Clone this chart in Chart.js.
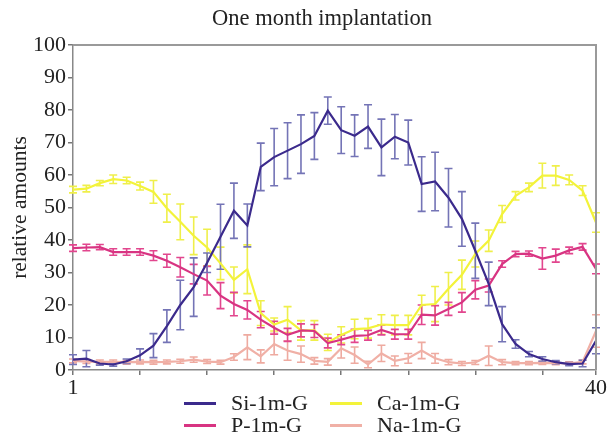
<!DOCTYPE html>
<html>
<head>
<meta charset="utf-8">
<script src="https://cdn.jsdelivr.net/npm/chart.js@4"></script>
<style>
  html, body { margin: 0; padding: 0; background: #fff; }
  #wrap { position: relative; width: 612px; height: 437px; }
  #legend { position: absolute; left: 0; top: 0; width: 612px; height: 437px; pointer-events: none;
            font-family: "Liberation Serif", "DejaVu Serif", serif; font-size: 22px; color: #222; }
  #title { position: absolute; left: 122px; width: 400px; top: 4px; text-align: center;
           font-size: 22.5px; line-height: 28px; white-space: nowrap; }
  .item { position: absolute; height: 24px; line-height: 24px; }
  .item span.swatch { position: absolute; top: 11px; height: 3px; width: 32px; }
  .item span.label { position: absolute; white-space: nowrap; }
</style>
</head>
<body>
<div id="wrap">
  <canvas id="chartProfile" width="612" height="437"></canvas>
  <div id="legend"><div id="title">One month implantation</div></div>
</div>
<script>
// measurement position along the line scan
const positions = [1, 2, 3, 4, 5, 6, 7, 8, 9, 10, 11, 12, 13, 14, 15, 16, 17, 18, 19, 20,
                   21, 22, 23, 24, 25, 26, 27, 28, 29, 30, 31, 32, 33, 34, 35, 36, 37, 38, 39, 40]
const xTicks = [1, 6, 11, 16, 21, 26, 31, 36, 40]
const xLabels = [1, 40]

const siValues = [3.2, 3.5, 2.0, 1.7, 2.7, 4.5, 7.5, 13.5, 20, 25.5, 33, 41, 49, 44.5, 62.5, 65.5, 67.5, 69.5, 72, 79.8,
                  73.8, 72.1, 74.9, 68.5, 71.8, 70, 57.2, 58, 53, 46.5, 36.7, 26.5, 14.1, 8, 4.9, 3.4, 2.4, 1.8, 2.0, 9.0]
const siErrors = [1.5, 2.5, 0.5, 0.5, 0.7, 2, 3.7, 5, 7.6, 9, 3, 10, 8.5, 6.6, 7.3, 8.8, 8.6, 9, 7.2, 4.2,
                  7.2, 6.4, 6.7, 8.7, 6.8, 6.9, 8.4, 9, 9, 8.4, 8.5, 6.7, 5.4, 1.3, 0.8, 0.7, 0.5, 0.5, 1, 4]

const caValues = [55.5, 55.8, 57.5, 58.7, 58.3, 56.6, 54.8, 49.8, 45.6, 41.3, 37.7, 32.8, 27.7, 31, 17.5, 14, 15.5, 12.2, 12.2, 8.5,
                  10.8, 12.6, 12.8, 14, 13.8, 13.8, 20, 20.3, 25, 29.3, 35.7, 39.8, 48, 53.6, 56.2, 59.8, 59.8, 58.5, 55.2, 45.4]
const caErrors = [1, 1, 0.8, 1.3, 1, 1.2, 3.5, 4.3, 5.5, 5.8, 5.6, 5, 4, 7.5, 3.8, 2, 4, 3, 3, 2.5,
                  2.5, 3, 3, 3, 3, 3, 3, 5.4, 5, 4.5, 4, 3.3, 2.6, 1.3, 1.3, 3.8, 3, 1.5, 1.5, 3]

const pValues = [37.5, 37.7, 37.8, 36.3, 36.3, 36.3, 35.2, 33.6, 31.6, 29.5, 27.5, 22.9, 20.3, 18.5, 15.5, 13, 10.8, 12.2, 12, 8.3,
                 9.3, 10.5, 10.7, 12.3, 11, 11, 17, 16.8, 18.8, 20.8, 24.7, 26, 32.6, 35.7, 35.8, 34.3, 35.2, 36.8, 37.9, 31.1]
const pErrors = [1, 1, 0.8, 1, 1, 1, 1.5, 2, 3, 3, 4.4, 4, 3.6, 2.8, 2.5, 2, 2, 2, 2, 1.5,
                 1.5, 2, 1.5, 1.5, 1.5, 1.5, 3, 3, 2, 3, 2.8, 2, 1, 0.8, 0.8, 3.3, 2, 1, 1, 1.5]

const naValues = [2.8, 2.6, 2.5, 2.5, 2.4, 2.5, 2.4, 2.5, 2.7, 3.2, 2.6, 2.4, 4, 7, 4.2, 8, 6, 4.9, 2.8, 2.5,
                  6.7, 4.6, 1.7, 5.1, 2.8, 3.6, 6, 3.6, 2.4, 2.0, 2.3, 4.4, 2.4, 2.1, 2.1, 2.2, 2.1, 2.0, 2.5, 12]
const naErrors = [0.6, 0.6, 0.6, 0.6, 0.6, 0.6, 0.6, 0.6, 0.6, 0.8, 0.6, 0.6, 1, 3.8, 2, 3.3, 3, 2.5, 1, 1,
                  3, 2.5, 1, 2.5, 1.5, 1.5, 2.5, 1.5, 0.8, 0.6, 0.6, 3, 0.8, 0.5, 0.5, 0.5, 0.5, 0.5, 0.6, 5]

const serif = '"Liberation Serif", "DejaVu Serif", serif'

function series(label, values, errors, color, errorColor) {
    return {
        label: label,
        data: positions.map((p, i) => ({ x: p, y: values[i] })),
        errors: errors,
        errorColor: errorColor,
        borderColor: color,
        borderWidth: 2.2,
        pointRadius: 0,
        tension: 0,
        fill: false
    }
}

const datasets = [
    series('Si-1m-G', siValues, siErrors, '#3b2a8c', '#7474b6'),
    series('P-1m-G', pValues, pErrors, '#d83482', '#e2468e'),
    series('Ca-1m-G', caValues, caErrors, '#f3f33a', '#efef4a'),
    series('Na-1m-G', naValues, naErrors, '#f0b0a6', '#eeaaa0')
]

// vertical error bars with caps, drawn below the lines
const errorBars = {
    id: 'errorBars',
    beforeDatasetsDraw(chart) {
        const ctx = chart.ctx
        const yScale = chart.scales.y
        for (let di = chart.data.datasets.length - 1; di >= 0; di--) {
            const ds = chart.data.datasets[di]
            const meta = chart.getDatasetMeta(di)
            ctx.save()
            ctx.strokeStyle = ds.errorColor
            ctx.lineWidth = 1.6
            meta.data.forEach((pt, i) => {
                const v = ds.data[i].y
                const e = ds.errors[i]
                const top = yScale.getPixelForValue(v + e)
                const bot = yScale.getPixelForValue(Math.max(0, v - e))
                ctx.beginPath()
                ctx.moveTo(pt.x, top)
                ctx.lineTo(pt.x, bot)
                ctx.moveTo(pt.x - 4, top)
                ctx.lineTo(pt.x + 4, top)
                ctx.moveTo(pt.x - 4, bot)
                ctx.lineTo(pt.x + 4, bot)
                ctx.stroke()
            })
            ctx.restore()
        }
    }
}

// grey frame on top and right of the plot
const frame = {
    id: 'frame',
    afterDraw(chart) {
        const a = chart.chartArea
        const ctx = chart.ctx
        ctx.save()
        ctx.strokeStyle = '#9a9a9a'
        ctx.lineWidth = 2
        ctx.beginPath()
        ctx.moveTo(a.left, a.top)
        ctx.lineTo(a.right, a.top)
        ctx.lineTo(a.right, a.bottom)
        ctx.stroke()
        ctx.restore()
    }
}

const ctx = document.getElementById('chartProfile').getContext('2d')
new Chart(ctx, {
    type: 'line',
    data: { datasets: datasets },
    plugins: [errorBars, frame],
    options: {
        responsive: false,
        animation: false,
        layout: { padding: { top: 45, right: 16, left: 0, bottom: 0 } },
        plugins: {
            legend: { display: false },
            tooltip: { enabled: false },
            title: { display: false }
        },
        scales: {
            x: {
                type: 'linear',
                min: 1,
                max: 40,
                afterBuildTicks: function(scale) {
                    scale.ticks = xTicks.map(v => ({ value: v }))
                },
                afterFit: function(scale) { scale.height = 67 },
                ticks: {
                    color: '#222',
                    font: { family: serif, size: 22 },
                    padding: 0,
                    maxRotation: 0,
                    autoSkip: false,
                    callback: function(value) {
                        return xLabels.includes(value) ? String(value) : ''
                    }
                },
                grid: { drawOnChartArea: false, drawTicks: true, tickLength: 5, color: '#777', lineWidth: 1.5 },
                border: { color: '#888', width: 1.5 }
            },
            y: {
                min: 0,
                max: 100,
                afterFit: function(scale) { scale.width = 73 },
                title: {
                    display: true,
                    text: 'relative amounts',
                    color: '#222',
                    font: { family: serif, size: 21.5 },
                    padding: { top: 7, bottom: 0 }
                },
                ticks: {
                    stepSize: 10,
                    color: '#222',
                    font: { family: serif, size: 22 },
                    padding: 2
                },
                grid: { drawOnChartArea: false, drawTicks: true, tickLength: 5, color: '#777', lineWidth: 1.5 },
                border: { color: '#888', width: 1.5 }
            }
        }
    }
})

// legend below the plot, two columns
const legendItems = [
    { label: 'Si-1m-G', color: '#3b2a8c', left: 184, top: 391 },
    { label: 'Ca-1m-G', color: '#f3f33a', left: 330, top: 391 },
    { label: 'P-1m-G', color: '#d83482', left: 184, top: 413 },
    { label: 'Na-1m-G', color: '#f0b0a6', left: 330, top: 413 }
]
const legend = document.getElementById('legend')
legendItems.forEach(function(item) {
    const div = document.createElement('div')
    div.className = 'item'
    div.style.left = item.left + 'px'
    div.style.top = item.top + 'px'
    div.innerHTML = '<span class="swatch" style="left:0;background:' + item.color + '"></span>' +
                    '<span class="label" style="left:47px">' + item.label + '</span>'
    legend.appendChild(div)
})
</script>
</body>
</html>
